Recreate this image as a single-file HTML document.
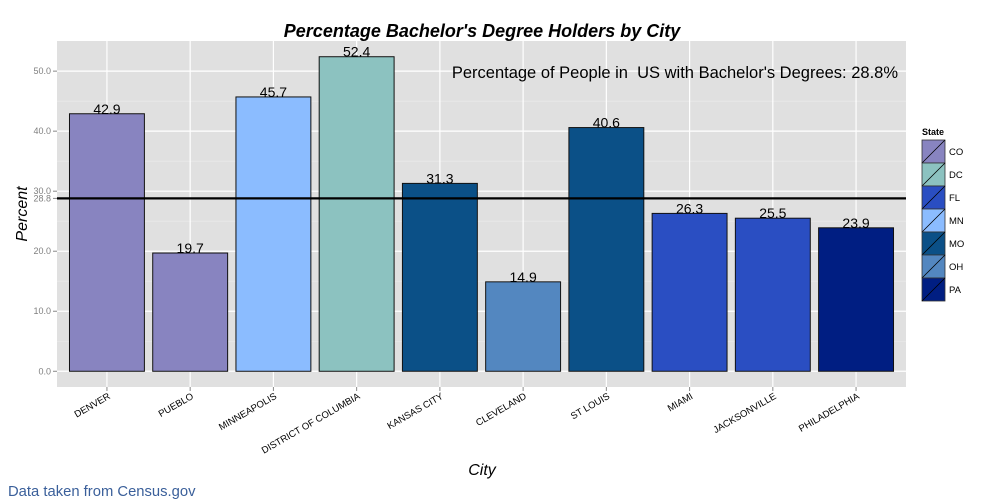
<!DOCTYPE html>
<html><head><meta charset="utf-8"><style>
body{margin:0;background:#fff;}
svg{font-family:"Liberation Sans",sans-serif;display:block}
text{white-space:pre}
</style></head><body>
<svg id="c" width="1000" height="500"></svg>
<script>
const categories=["DENVER","PUEBLO","MINNEAPOLIS","DISTRICT OF COLUMBIA","KANSAS CITY","CLEVELAND","ST LOUIS","MIAMI","JACKSONVILLE","PHILADELPHIA"];
const values=[42.9,19.7,45.7,52.4,31.3,14.9,40.6,26.3,25.5,23.9];
const states=["CO","CO","MN","DC","MO","OH","MO","FL","FL","PA"];
const legendStates=["CO","DC","FL","MN","MO","OH","PA"];
const stateColors=["#8884c0","#8cc2c0","#2a4ec2","#8bbcff","#0b5087","#5387c0","#001e82"];
const yTicks=[0,10,20,30,40,50];
const refValue=28.8;
const NS="http://www.w3.org/2000/svg";
const svg=document.getElementById('c');
function mk(t,a,p){const e=document.createElementNS(NS,t);for(const k in a)e.setAttribute(k,a[k]);(p||svg).appendChild(e);return e;}
const L=57,R=906,T=41,B=387;
const yMin=-2.62,yMax=55.02;
const y=v=>B-(v-yMin)/(yMax-yMin)*(B-T);
const unit=(R-L)/(categories.length+0.2);
const x=i=>L+(i+0.6)*unit;
const panel=mk('rect',{x:L,y:T,width:R-L,height:B-T,fill:'#e0e0e0'});


for(let v=5;v<55;v+=10){mk('line',{x1:L,x2:R,y1:y(v),y2:y(v),stroke:'#ededed','stroke-width':0.6});}
yTicks.forEach(v=>{
 mk('line',{x1:L,x2:R,y1:y(v),y2:y(v),stroke:'#fff','stroke-width':1.2});
 mk('line',{x1:L-4,x2:L,y1:y(v),y2:y(v),stroke:'#888'});
 const t=mk('text',{x:L-6,y:y(v)+3,'text-anchor':'end','font-size':9,fill:'#7f7f7f'});t.textContent=v.toFixed(1);
 
 
});
{const t=mk('text',{x:L-6,y:y(refValue)+3,'text-anchor':'end','font-size':9,fill:'#7f7f7f'});t.textContent=refValue.toFixed(1);
 mk('line',{x1:L-4,x2:L,y1:y(refValue),y2:y(refValue),stroke:'#888'});}
categories.forEach((c,i)=>{
 mk('line',{x1:x(i),x2:x(i),y1:T,y2:B,stroke:'#fff','stroke-width':1.2});
});
categories.forEach((c,i)=>{
 const col=stateColors[legendStates.indexOf(states[i])];
 const w=unit*0.9;
 const r=mk('rect',{x:x(i)-w/2,y:y(values[i]),width:w,height:y(0)-y(values[i]),fill:col,stroke:'#111','stroke-width':1});
 
 
 const t=mk('text',{x:x(i),y:y(values[i]),'text-anchor':'middle','font-size':14,fill:'#000'});t.textContent=values[i].toFixed(1);
 
 
 mk('line',{x1:x(i),x2:x(i),y1:B,y2:B+4,stroke:'#888'});
 const xl=mk('text',{x:0,y:0,'text-anchor':'end','font-size':9.5,fill:'#000',transform:`translate(${x(i)+4},${B+11}) rotate(-30)`});xl.textContent=c;
 
 
});
const hl=mk('line',{x1:L,x2:R,y1:y(refValue),y2:y(refValue),stroke:'#000','stroke-width':2.2});


const ann=mk('text',{x:898,y:78,'text-anchor':'end','font-size':16.5,fill:'#000'});ann.textContent="Percentage of People in  US with Bachelor's Degrees: 28.8%";


const ti=mk('text',{x:482,y:37,'text-anchor':'middle','font-size':18,'font-weight':'bold','font-style':'italic'});ti.textContent="Percentage Bachelor's Degree Holders by City";


const yt=mk('text',{x:0,y:0,'text-anchor':'middle','font-size':16,'font-style':'italic',transform:`translate(27,${(T+B)/2}) rotate(-90)`});yt.textContent="Percent";


const xt=mk('text',{x:482,y:475,'text-anchor':'middle','font-size':16,'font-style':'italic'});xt.textContent="City";


const cr=mk('text',{x:8,y:496,'font-size':14.8,fill:'#3a5f9a'});cr.textContent="Data taken from Census.gov";


const lt=mk('text',{x:922,y:135,'font-size':9,'font-weight':'bold'});lt.textContent="State";


legendStates.forEach((s,i)=>{
 const ky=140+i*23;
 const g=mk('g',{});
 
 
 mk('rect',{x:922,y:ky,width:23,height:23,fill:stateColors[i],stroke:'#333','stroke-width':0.8},g);
 mk('line',{x1:922,y1:ky+23,x2:945,y2:ky,stroke:'#000','stroke-width':0.8},g);
 const t=mk('text',{x:949,y:ky+15,'font-size':9.5},g);t.textContent=s;
});
</script>
</body></html>
